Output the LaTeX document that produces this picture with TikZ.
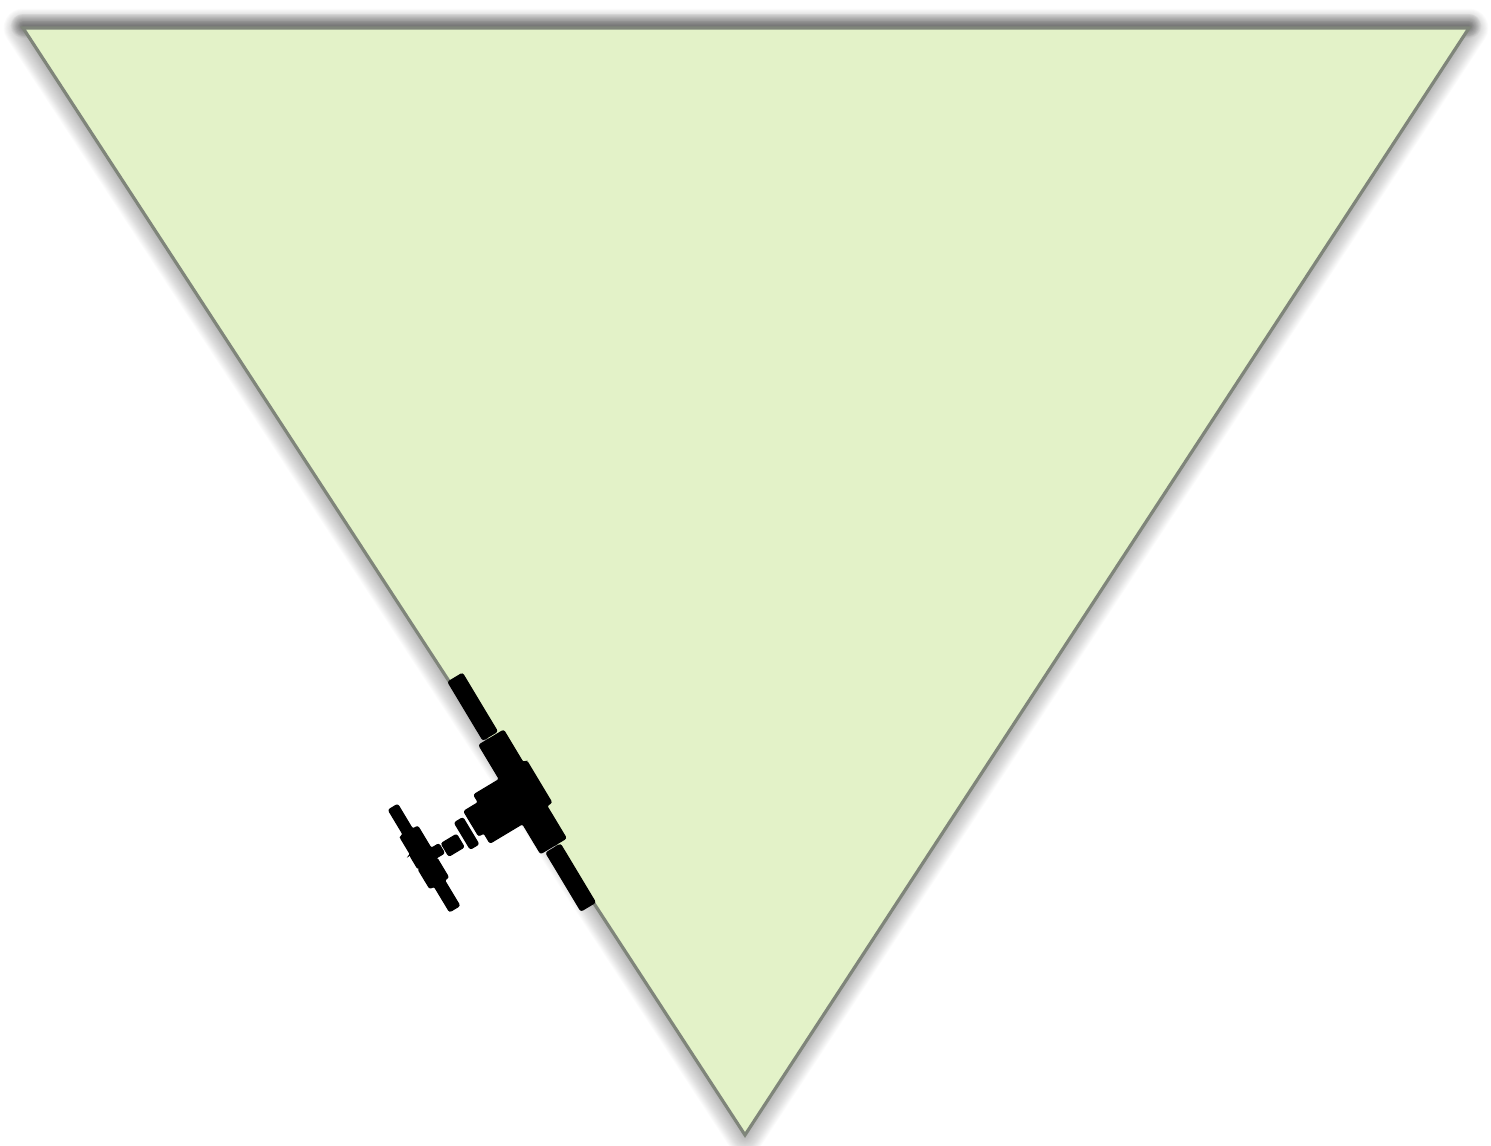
\documentclass[tikz,border=0pt]{standalone}
\usepackage{xcolor}
\usetikzlibrary{positioning}

\definecolor{fieldgreen}{HTML}{E3F2C8}
\definecolor{edgegray}{HTML}{7F857A}

\tikzset{
  valvepart/.style={fill=black, draw=black, line width=0.3pt, rounded corners=0.6pt},
}

\begin{document}
\begin{tikzpicture}[x=0.1mm, y=0.1mm]
  \useasboundingbox (0,0) rectangle (1491,1146);

  \coordinate (topleft) at (23,1118);
  \coordinate (topright) at (1469,1118);
  \coordinate (apex) at (745,11);

  % Soft shadow round the triangle
  \foreach \w in {1,2,...,22} {
    \draw[black, opacity=0.014, line width=\w*0.5pt, line join=round]
      (topleft) -- (topright) -- (apex) -- cycle;
  }
  \foreach \w in {1,2,...,14} {
    \draw[black, opacity=0.032, line width=\w*0.5pt, line cap=round]
      ([yshift=0.6pt]topleft) -- ([yshift=0.6pt]topright);
  }

  % Triangle
  \fill[white] (topleft) -- (topright) -- (apex) -- cycle;
  \filldraw[fill=fieldgreen, draw=edgegray, line width=0.9pt, line join=miter]
    (topleft) -- (topright) -- (apex) -- cycle;

  % Valve on the left edge
  \begin{scope}[shift={(521,354)}, rotate=-59]
    % pipes
    \fill[valvepart] (-132,-6) rectangle (-64,11);
    \fill[valvepart] (65,-10) rectangle (133,7);
    % body
    \fill[valvepart] (-62,-12) -- (-62,17) -- (-24,17) -- (-24,21) -- (25,21)
      -- (25,15) -- (63,15) -- (63,-15) -- (28,-15) -- (28,-53)
      -- (16,-53) -- (16,-59) -- (-13,-59) -- (-13,-42) -- (-22,-42)
      -- (-22,-12) -- cycle;
    % flange, stem
    \fill[valvepart] (-8,-73) rectangle (23,-63);
    \fill[valvepart] (3,-95) rectangle (18,-77);
    % handwheel
    \fill[valvepart] (-53,-123) -- (-24,-123) -- (-24,-127) -- (-3,-127)
      -- (-3,-128) -- (13,-128) -- (13,-97) -- (2,-97) -- (2,-106) -- (-24,-106)
      -- (-24,-112) -- (-53,-112) -- cycle;
    \fill[valvepart] (13,-128) -- (36,-128) -- (36,-123) -- (66,-123)
      -- (66,-111) -- (36,-111) -- (36,-106) -- (13,-106) -- cycle;
  \end{scope}
\end{tikzpicture}
\end{document}
